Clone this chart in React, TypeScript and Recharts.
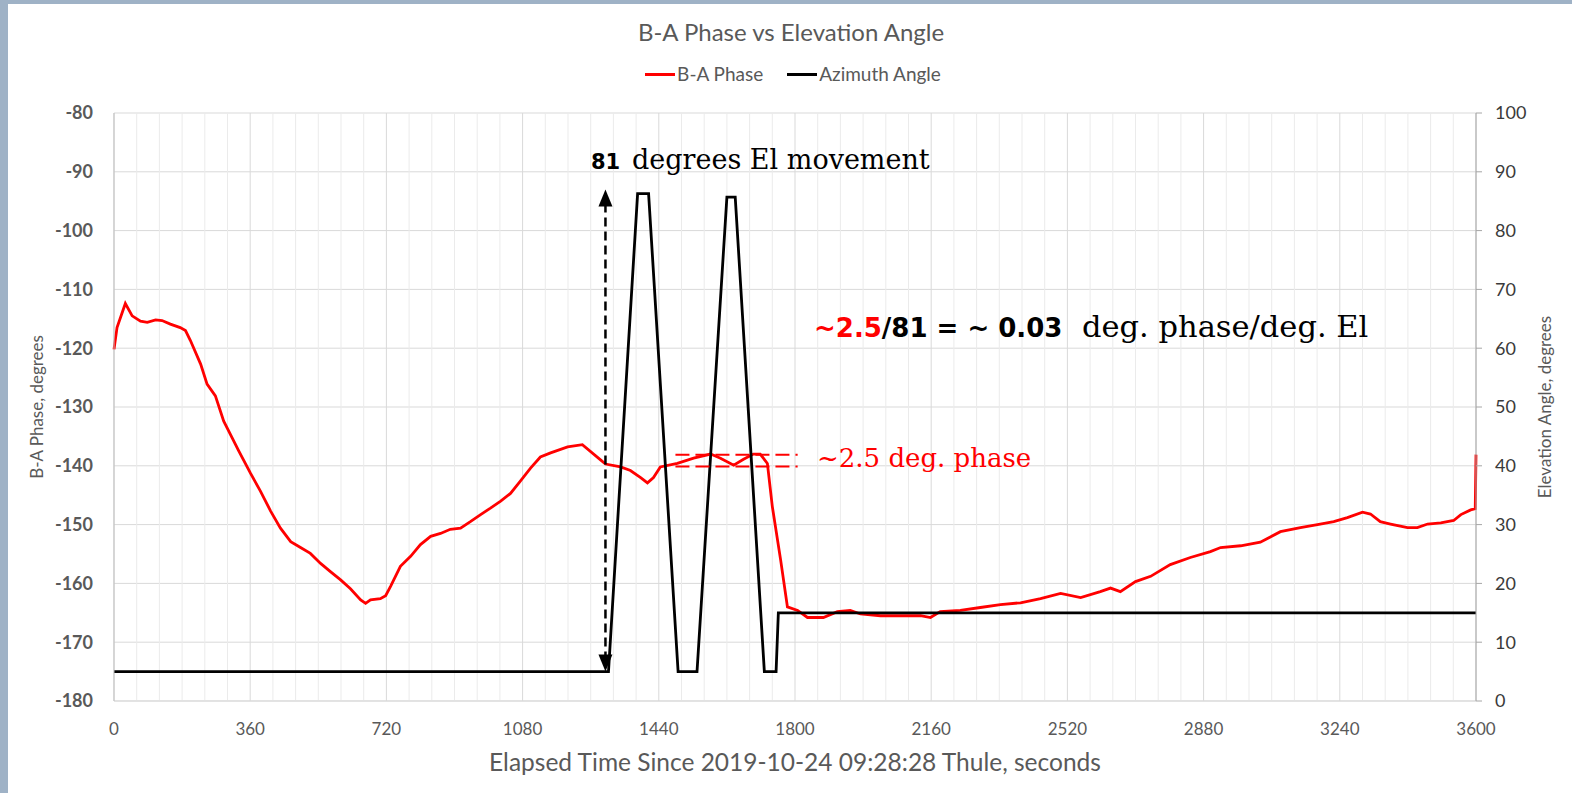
import React from "react";
import {
  LineChart,
  Line,
  XAxis,
  YAxis,
  CartesianGrid,
  Legend,
  ReferenceLine,
} from "recharts";

// B-A phase trace (left axis)
const phaseTime = [
  0, 8, 30, 48, 70, 88, 110, 127, 149, 175, 189, 202, 229, 246, 268, 290, 312, 330,
  361, 387, 414, 440, 467, 493, 519, 546, 572, 599, 625, 652, 665, 678, 704, 718,
  731, 757, 784, 810, 837, 863, 889, 916, 942, 969, 995, 1022, 1048, 1074, 1101,
  1127, 1154, 1199, 1238, 1286, 1299, 1339, 1365, 1392, 1410, 1426, 1444, 1489,
  1532, 1577, 1603, 1638, 1664, 1690, 1708, 1727, 1740, 1762, 1780, 1807, 1833,
  1875, 1912, 1946, 1973, 2026, 2079, 2132, 2158, 2184, 2237, 2290, 2343, 2396,
  2449, 2502, 2555, 2607, 2634, 2660, 2700, 2740, 2792, 2845, 2898, 2925, 2978,
  3030, 3083, 3136, 3181, 3224, 3260, 3300, 3321, 3347, 3374, 3419, 3445, 3472,
  3507, 3541, 3560, 3586, 3598, 3600,
];
const phaseValue = [
  -120.2, -116.5, -112.4, -114.5, -115.4, -115.6, -115.2, -115.3, -115.9, -116.5,
  -117, -118.7, -122.7, -126.1, -128.1, -132.4, -135.2, -137.5, -141.3, -144.3,
  -147.7, -150.6, -152.9, -153.9, -154.9, -156.6, -158, -159.4, -160.9, -162.8,
  -163.4, -162.8, -162.6, -162.1, -160.5, -157.1, -155.4, -153.4, -152, -151.5,
  -150.8, -150.6, -149.5, -148.3, -147.2, -146, -144.7, -142.6, -140.4, -138.5,
  -137.8, -136.8, -136.4, -139, -139.7, -140.2, -140.8, -142, -142.9, -142,
  -140.2, -139.6, -138.7, -138, -138.7, -139.9, -138.9, -138, -138, -139.6,
  -146.9, -156, -164, -164.6, -165.8, -165.8, -164.8, -164.6, -165.2, -165.5,
  -165.5, -165.5, -165.8, -164.8, -164.6, -164.1, -163.6, -163.3, -162.6, -161.7,
  -162.4, -161.4, -160.8, -161.4, -159.7, -158.8, -156.8, -155.6, -154.6, -153.9,
  -153.6, -153, -151.2, -150.5, -150, -149.5, -148.8, -147.9, -148.2, -149.5,
  -149.9, -150.5, -150.5, -149.9, -149.7, -149.3, -148.3, -147.5, -147.3, -138.1,
];

// antenna elevation trace (right axis)
const elevTime = [0, 1307, 1384, 1413, 1491, 1541, 1620, 1642, 1719, 1750, 1756, 3600];
const elevValue = [5, 5, 86.3, 86.3, 5, 5, 85.7, 85.7, 5, 5, 15, 15];

const xTicks = [0, 360, 720, 1080, 1440, 1800, 2160, 2520, 2880, 3240, 3600];
const leftTicks = [-180, -170, -160, -150, -140, -130, -120, -110, -100, -90, -80];
const rightTicks = [0, 10, 20, 30, 40, 50, 60, 70, 80, 90, 100];
// 60 s minor grid, skipping the major 360 s lines
const minorTicks = Array.from({ length: 61 }, (_, i) => i * 60).filter((t) => t % 360 !== 0);
const legendOrder = ["B-A Phase", "Azimuth Angle"];

// phase band marked with dashed lines
const bandStart = 1484;
const bandEnd = 1807;
const bandHigh = -138.1;
const bandLow = -140.1;

// elevation sweep arrow
const arrowTime = 1299;
const arrowFrom = 5;
const arrowTo = 87;

const phaseData = phaseTime.map((t, i) => ({ t, phase: phaseValue[i] }));
const elevData = elevTime.map((t, i) => ({ t, elev: elevValue[i] }));

const FONT = "Lato, 'Open Sans', sans-serif";
const SERIF = "'DejaVu Serif', serif";
const BOLD_SANS = "'DejaVu Sans', sans-serif";

const DoubleArrow = (props: any) => {
  const { x1, y1, y2 } = props;
  const top = Math.min(y1, y2);
  const bot = Math.max(y1, y2);
  return (
    <g>
      <line
        x1={x1}
        x2={x1}
        y1={top + 14}
        y2={bot - 14}
        stroke="#000"
        strokeWidth={2.5}
        strokeDasharray="9 5"
      />
      <polygon points={`${x1},${top} ${x1 - 7},${top + 17} ${x1 + 7},${top + 17}`} fill="#000" />
      <polygon points={`${x1},${bot} ${x1 - 7},${bot - 17} ${x1 + 7},${bot - 17}`} fill="#000" />
    </g>
  );
};

const LegendContent = (props: any) => {
  const items = [...(props.payload || [])].sort(
    (a: any, b: any) => legendOrder.indexOf(a.value) - legendOrder.indexOf(b.value)
  );
  return (
    <div
      style={{
        display: "flex",
        justifyContent: "center",
        gap: 24,
        fontFamily: FONT,
        fontSize: 19,
        lineHeight: "20px",
        color: "#595959",
        paddingLeft: 14,
      }}
    >
      {items.map((p: any) => (
        <div key={p.value} style={{ display: "flex", alignItems: "center" }}>
          <div style={{ width: 30, height: 3, background: p.color, marginRight: 2 }} />
          <span>{p.value}</span>
        </div>
      ))}
    </div>
  );
};

export default function App() {
  return (
    <div
      style={{
        position: "absolute",
        left: 0,
        top: 0,
        width: 1572,
        height: 793,
        background: "#9fb2c6",
        overflow: "hidden",
      }}
    >
      <div
        style={{
          position: "absolute",
          left: 8,
          top: 4,
          width: 1564,
          height: 789,
          background: "#fff",
        }}
      />
      <div
        style={{
          position: "absolute",
          left: 0,
          top: 17,
          width: 1572,
          textAlign: "center",
          fontFamily: FONT,
          fontSize: 24,
          color: "#595959",
          paddingLeft: 10,
          boxSizing: "border-box",
        }}
      >
        B-A Phase vs Elevation Angle
      </div>
      <div style={{ position: "absolute", left: 0, top: 0 }}>
        <LineChart width={1572} height={793} margin={{ top: 93, right: 0, bottom: 0, left: 0 }}>
          <XAxis
            xAxisId="main"
            type="number"
            dataKey="t"
            domain={[0, 3600]}
            ticks={xTicks}
            interval={0}
            height={92}
            tickLine={false}
            tickSize={0}
            tickMargin={22}
            axisLine={{ stroke: "#d9d9d9" }}
            tick={{ fontFamily: FONT, fontSize: 17, fill: "#595959" }}
            label={{
              value: "Elapsed Time Since 2019-10-24 09:28:28 Thule, seconds",
              position: "insideBottom",
              offset: 22,
              style: { fontFamily: FONT, fontSize: 24.5, fill: "#595959" },
            }}
          />
          <YAxis
            yAxisId="left"
            orientation="left"
            domain={[-180, -80]}
            ticks={leftTicks}
            interval={0}
            width={114}
            tickLine={false}
            tickSize={0}
            tickMargin={21}
            axisLine={{ stroke: "#bfbfbf" }}
            tick={{ fontFamily: FONT, fontSize: 18, fontWeight: 700, fill: "#595959" }}
            label={{
              value: "B-A Phase, degrees",
              angle: -90,
              position: "insideLeft",
              offset: 37,
              style: { textAnchor: "middle", fontFamily: FONT, fontSize: 17, fill: "#595959" },
            }}
          />
          <YAxis
            yAxisId="right"
            orientation="right"
            domain={[0, 100]}
            ticks={rightTicks}
            interval={0}
            width={96}
            tickSize={6}
            tickMargin={13}
            tickLine={{ stroke: "#a6a6a6" }}
            axisLine={{ stroke: "#a6a6a6" }}
            tick={{ fontFamily: FONT, fontSize: 18, fill: "#3a3a3a", textAnchor: "start" }}
            label={{
              value: "Elevation Angle, degrees",
              angle: -90,
              position: "insideRight",
              offset: 27,
              style: { textAnchor: "middle", fontFamily: FONT, fontSize: 17, fill: "#595959" },
            }}
          />
          {minorTicks.map((t) => (
            <ReferenceLine
              key={t}
              xAxisId="main"
              yAxisId="left"
              x={t}
              stroke="#ebebeb"
              strokeWidth={1}
            />
          ))}
          <CartesianGrid xAxisId="main" yAxisId="left" stroke="#d9d9d9" />
          <Legend
            verticalAlign="top"
            content={<LegendContent />}
            wrapperStyle={{ top: 64, left: 0, width: 1572 }}
          />
          <Line
            xAxisId="main"
            yAxisId="left"
            data={phaseData}
            dataKey="phase"
            name="B-A Phase"
            type="linear"
            stroke="#ff0000"
            strokeWidth={2.8}
            dot={false}
            isAnimationActive={false}
          />
          <Line
            xAxisId="main"
            yAxisId="right"
            data={elevData}
            dataKey="elev"
            name="Azimuth Angle"
            type="linear"
            stroke="#000000"
            strokeWidth={2.8}
            dot={false}
            isAnimationActive={false}
          />
          <ReferenceLine
            xAxisId="main"
            yAxisId="left"
            segment={[
              { x: bandStart, y: bandHigh },
              { x: bandEnd, y: bandHigh },
            ]}
            stroke="#ff0000"
            strokeWidth={2}
            strokeDasharray="14 6"
          />
          <ReferenceLine
            xAxisId="main"
            yAxisId="left"
            segment={[
              { x: bandStart, y: bandLow },
              { x: bandEnd, y: bandLow },
            ]}
            stroke="#ff0000"
            strokeWidth={2}
            strokeDasharray="14 6"
          />
          <ReferenceLine
            xAxisId="main"
            yAxisId="right"
            segment={[
              { x: arrowTime, y: arrowFrom },
              { x: arrowTime, y: arrowTo },
            ]}
            shape={<DoubleArrow />}
          />
        </LineChart>
      </div>
      <svg
        width={1572}
        height={793}
        style={{ position: "absolute", left: 0, top: 0, pointerEvents: "none" }}
      >
        <text y={168.6}>
          <tspan x={591} fontFamily={BOLD_SANS} fontWeight={700} fontSize={21} fill="#000">
            81
          </tspan>
          <tspan x={632} fontFamily={SERIF} fontSize={27} fill="#000">
            degrees El movement
          </tspan>
        </text>
        <text y={337}>
          <tspan x={814} fontFamily={BOLD_SANS} fontWeight={700} fontSize={26} fill="#ff0000">
            ~2.5
          </tspan>
          <tspan fontFamily={BOLD_SANS} fontWeight={700} fontSize={26} fill="#000">
            /81 = ~ 0.03
          </tspan>
          <tspan x={1082} fontFamily={SERIF} fontSize={30.5} fill="#000">
            deg. phase/deg. El
          </tspan>
        </text>
        <text x={817} y={466.7} fontFamily={SERIF} fontSize={26} fill="#ff0000">
          ~2.5 deg. phase
        </text>
      </svg>
    </div>
  );
}
